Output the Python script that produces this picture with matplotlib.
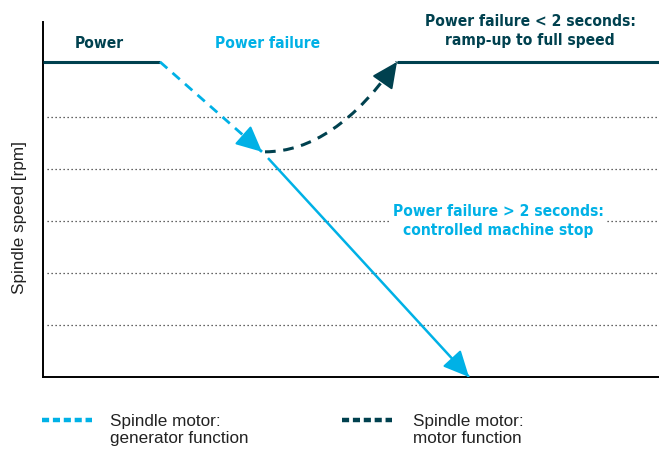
import matplotlib
matplotlib.use("Agg")
import matplotlib.pyplot as plt
from matplotlib.path import Path
from matplotlib.patches import PathPatch
from matplotlib.lines import Line2D
from matplotlib import font_manager as fm

# ---- data (time units, speed units) ----
power_x = [0.0, 11.7]
power_y = [6.06, 6.06]
gen_x = [11.7, 21.9]          # generator function (dashed, light blue)
gen_y = [6.06, 4.33]
motor_x = [22.2, 35.4]        # motor function (dashed curve, dark)
motor_y = [4.33, 6.06]
full_x = [35.4, 61.6]         # full speed again
full_y = [6.06, 6.06]
stop_x = [22.5, 42.6]         # controlled stop
stop_y = [4.21, 0.0]
grid_levels = [1, 2, 3, 4, 5]

DARK = "#00414f"
BLUE = "#00b1e6"
REG = ["Liberation Sans", "DejaVu Sans"]

names = {f.name for f in fm.fontManager.ttflist}
if "Liberation Sans Narrow" in names:
    BOLD = dict(family=["Liberation Sans Narrow", "DejaVu Sans"], weight="bold")
else:
    BOLD = dict(family=["DejaVu Sans"], weight="bold", stretch="condensed")

W, H = 659, 450
fig = plt.figure(figsize=(W / 100, H / 100), dpi=100)
ax = fig.add_axes([43 / W, (H - 377) / H, (W - 43) / W, (377 - 22) / H])
ax.set_xlim(0, 61.6)
ax.set_ylim(0, 355 / 52)
for s in ["top", "right"]:
    ax.spines[s].set_visible(False)
for s in ["left", "bottom"]:
    ax.spines[s].set_linewidth(1.4)
    ax.spines[s].set_color("black")
ax.set_xticks([])
ax.set_yticks([])

for g in grid_levels:
    ax.axhline(g, xmin=0.006, xmax=1, color="#333333", lw=0.9,
               linestyle=(0, (1, 2.2)), zorder=1)

ax.plot(power_x, power_y, color=DARK, lw=2.2, solid_capstyle="butt", zorder=3)
ax.plot(full_x, full_y, color=DARK, lw=2.2, solid_capstyle="butt", zorder=3)

def head(x0, y0, x1, y1, color, frac):
    xs = x1 - (x1 - x0) * frac
    ys = y1 - (y1 - y0) * frac
    ax.annotate("", xy=(x1, y1), xytext=(xs, ys),
                arrowprops=dict(arrowstyle="-|>,head_length=0.8,head_width=0.38",
                                color=color, lw=1.5, mutation_scale=20,
                                shrinkA=0, shrinkB=0), zorder=4)

ax.plot(gen_x, gen_y, color=BLUE, lw=2.0, linestyle=(0, (3.5, 2.5)), zorder=3)
head(gen_x[0], gen_y[0], gen_x[1], gen_y[1], BLUE, 0.12)

ax.plot(stop_x, stop_y, color=BLUE, lw=1.8, solid_capstyle="butt", zorder=3)
head(stop_x[0], stop_y[0], stop_x[1], stop_y[1], BLUE, 0.05)

ctrl = (29.1, motor_y[0])
path = Path([(motor_x[0], motor_y[0]), ctrl, (motor_x[1], motor_y[1])],
            [Path.MOVETO, Path.CURVE3, Path.CURVE3])
ax.add_patch(PathPatch(path, facecolor="none", edgecolor=DARK, lw=2.2,
                       linestyle=(0, (3.5, 2.5)), zorder=3))
head(34.2, 5.73, motor_x[1], motor_y[1], DARK, 1.0)

bold_texts = []
def btext(x, y, s, color, target_w, **kw):
    t = fig.text(x / W, 1 - y / H, s, color=color, fontsize=14, ha="center",
                 va="center", linespacing=1.3, **BOLD, **kw)
    bold_texts.append((t, target_w))
    return t

btext(99, 43, "Power", DARK, 47)
btext(268, 43, "Power failure", BLUE, 103)
btext(530, 31, "Power failure < 2 seconds:\nramp-up to full speed", DARK, 206)
btext(498, 221, "Power failure > 2 seconds:\ncontrolled machine stop", BLUE, 207,
      bbox=dict(facecolor="white", edgecolor="none", pad=2))

fig.text(20 / W, 1 - 218 / H, "Spindle speed [rpm]", color="#222222", family=REG,
         fontsize=12.3, rotation=90, ha="center", va="center")

fig.add_artist(Line2D([42 / W, 92 / W], [1 - 420 / H] * 2, color=BLUE, lw=3.2,
                      linestyle=(0, (1.6, 0.85)), transform=fig.transFigure))
fig.add_artist(Line2D([342 / W, 392 / W], [1 - 420 / H] * 2, color=DARK, lw=3.2,
                      linestyle=(0, (1.6, 0.85)), transform=fig.transFigure))
fig.text(110 / W, 1 - 430 / H, "Spindle motor:\ngenerator function", color="#222222",
         family=REG, fontsize=12.3, ha="left", va="center", linespacing=1.15)
fig.text(413 / W, 1 - 430 / H, "Spindle motor:\nmotor function", color="#222222",
         family=REG, fontsize=12.3, ha="left", va="center", linespacing=1.15)

# fit bold text widths to the reference widths
fig.canvas.draw()
r = fig.canvas.get_renderer()
scales = [tw / t.get_window_extent(r).width for t, tw in bold_texts]
sc = min(scales) * 1.05
for t, tw in bold_texts:
    t.set_fontsize(14 * sc)

fig.savefig("out.png", dpi=100)
